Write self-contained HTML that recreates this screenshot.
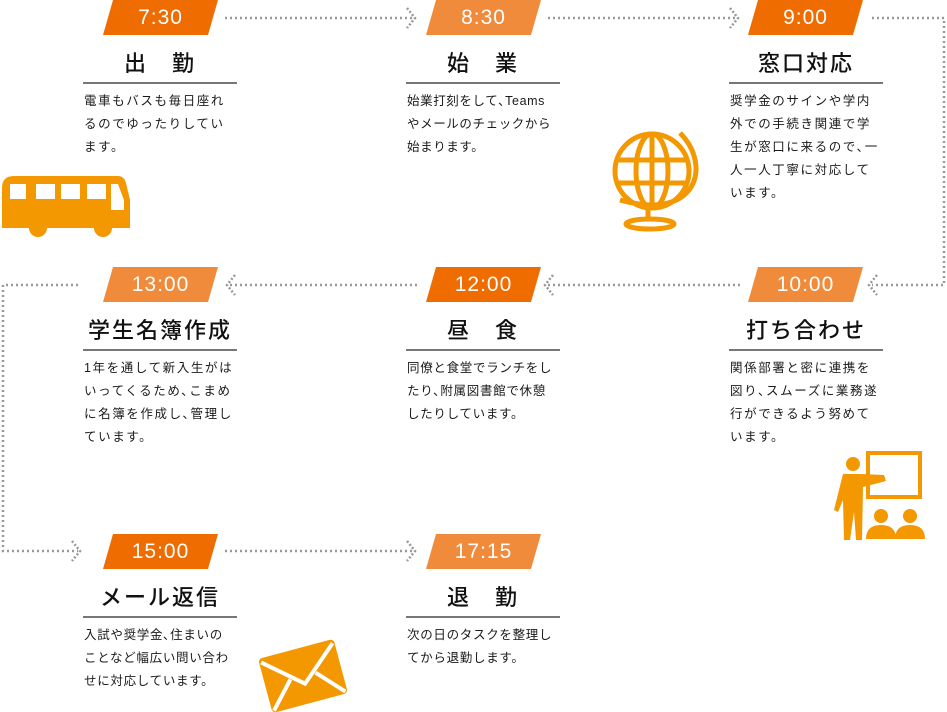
<!DOCTYPE html>
<html><head><meta charset="utf-8"><style>
body{margin:0;width:947px;height:712px;position:relative;background:#fff;overflow:hidden;font-family:"Liberation Sans","Noto Sans CJK JP",sans-serif;color:#222}
.b{position:absolute;width:115px;height:35px;color:#fff;font-size:21px;text-align:center;line-height:36px;clip-path:polygon(10px 0,115px 0,105px 35px,0 35px);letter-spacing:1px}
.d{background:#ee6c00}.l{background:#f08b3c}
.h{position:absolute;width:154px;text-align:center;font-size:22px;font-weight:500;color:#111;border-bottom:2px solid #777;line-height:34px;padding-bottom:1px;letter-spacing:2px}
.t{position:absolute;width:165px;font-size:12.5px;line-height:23px;letter-spacing:1.6px;color:#1a1a1a}
svg{position:absolute;left:0;top:0}
</style></head><body>
<svg width="947" height="712">
<g stroke="#999" stroke-width="2.5" stroke-dasharray="2 3" fill="none">
<path d="M225 18H412"/><path d="M548 18H735"/>
<path d="M872 18H944V285H872"/>
<path d="M548 285H740"/><path d="M230 285H420"/>
<path d="M78 285H3V551H78"/>
<path d="M225 551H412"/>
</g>
<g stroke="#999" stroke-width="2.5" stroke-dasharray="2 2" fill="none">
<path d="M407 8L415 18L407 28"/><path d="M730 8L738 18L730 28"/>
<path d="M877 275L869 285L877 295"/><path d="M553 275L545 285L553 295"/><path d="M235 275L227 285L235 295"/>
<path d="M72 541L80 551L72 561"/><path d="M407 541L415 551L407 561"/>
</g>
<!-- bus -->
<g fill="#f39800">
<path d="M14 176H118Q124 176 126 183L130 200V228H2V188Q2 176 14 176Z"/>
<circle cx="38" cy="228" r="9"/><circle cx="103" cy="228" r="9"/>
</g>
<g fill="#fff"><rect x="10" y="184" width="16" height="15"/><rect x="36" y="184" width="19" height="15"/><rect x="61" y="184" width="19" height="15"/><rect x="87" y="184" width="19" height="15"/><path d="M111 184H118L124 200V210H111Z"/></g>
<!-- globe -->
<g stroke="#f39800" stroke-width="5" fill="none">
<circle cx="652" cy="171" r="37"/>
<ellipse cx="652" cy="171" rx="16" ry="37"/>
<path d="M617 160H687M617 183H687M652 134V208"/>
<path d="M680 133C712 165 698 222 620 200"/>
<path d="M648 208V220"/>
<ellipse cx="650" cy="224" rx="24" ry="5"/>
</g>
<!-- presenter -->
<g fill="#f39800">
<rect x="868" y="453" width="52" height="44" fill="none" stroke="#f39800" stroke-width="4"/>
<circle cx="853" cy="464" r="7"/>
<path d="M843 474H861L884 475L886 481L863 487L862 540H856L854 512L850 540H844L843 500L838 512L834 510Z"/>
<circle cx="881" cy="516" r="7"/><circle cx="910" cy="516" r="7"/>
<path d="M866 539Q866 525 881 525Q896 525 896 539Z"/><path d="M895 539Q895 525 910 525Q925 525 925 539Z"/>
</g>
<!-- envelope -->
<g transform="rotate(-15 303 676)">
<rect x="264" y="648" width="78" height="56" rx="4" fill="#f39800"/>
<path d="M266 652L303 684L340 652" stroke="#fff" stroke-width="4" fill="none"/>
<path d="M266 702L290 676M340 702L316 676" stroke="#fff" stroke-width="4"/>
</g>
</svg>

<div class="b d" style="left:103px;top:0">7:30</div>
<div class="b l" style="left:426px;top:0">8:30</div>
<div class="b d" style="left:748px;top:0">9:00</div>
<div class="b l" style="left:748px;top:267px">10:00</div>
<div class="b d" style="left:426px;top:267px">12:00</div>
<div class="b l" style="left:103px;top:267px">13:00</div>
<div class="b d" style="left:103px;top:534px">15:00</div>
<div class="b l" style="left:426px;top:534px">17:15</div>

<div class="h" style="left:83px;top:47px">出　勤</div>
<div class="h" style="left:406px;top:47px">始　業</div>
<div class="h" style="left:729px;top:47px">窓口対応</div>
<div class="h" style="left:729px;top:314px">打ち合わせ</div>
<div class="h" style="left:406px;top:314px">昼　食</div>
<div class="h" style="left:83px;top:314px">学生名簿作成</div>
<div class="h" style="left:83px;top:581px">メール返信</div>
<div class="h" style="left:406px;top:581px">退　勤</div>

<div class="t" style="left:84px;top:90px">電車もバスも毎日座れ<br>るのでゆったりしてい<br>ます。</div>
<div class="t" style="left:407px;top:90px;letter-spacing:0.6px">始業打刻をして､Teams<br>やメールのチェックから<br>始まります。</div>
<div class="t" style="left:730px;top:90px">奨学金のサインや学内<br>外での手続き関連で学<br>生が窓口に来るので､一<br>人一人丁寧に対応して<br>います。</div>
<div class="t" style="left:730px;top:357px">関係部署と密に連携を<br>図り､スムーズに業務遂<br>行ができるよう努めて<br>います。</div>
<div class="t" style="left:407px;top:357px;letter-spacing:0.7px">同僚と食堂でランチをし<br>たり､附属図書館で休憩<br>したりしています。</div>
<div class="t" style="left:84px;top:357px">1年を通して新入生がは<br>いってくるため､こまめ<br>に名簿を作成し､管理し<br>ています。</div>
<div class="t" style="left:84px;top:624px;letter-spacing:0.7px">入試や奨学金､住まいの<br>ことなど幅広い問い合わ<br>せに対応しています。</div>
<div class="t" style="left:407px;top:624px;letter-spacing:0.7px">次の日のタスクを整理し<br>てから退勤します。</div>
</body></html>
